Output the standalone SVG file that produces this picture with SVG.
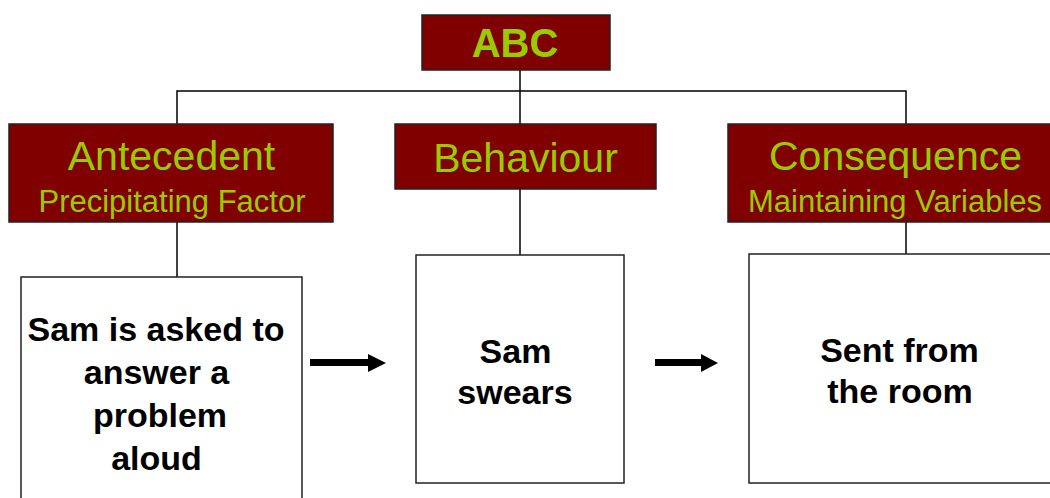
<svg xmlns="http://www.w3.org/2000/svg" width="1050" height="498" viewBox="0 0 1050 498">
  <style>
    .head { fill: #800000; stroke: #222; stroke-width: 1.5; }
    .card { fill: #fff; stroke: #222; stroke-width: 1.5; }
    .big { font-family: "Liberation Sans", Arial, sans-serif; font-size: 41px; fill: #99cc00; text-anchor: middle; }
    .sub { font-family: "Liberation Sans", Arial, sans-serif; font-size: 31px; fill: #99cc00; text-anchor: middle; }
    .body { font-family: "Liberation Sans", Arial, sans-serif; font-size: 34px; font-weight: bold; fill: #000; text-anchor: middle; }
    .wire { stroke: #000; stroke-width: 1.5; fill: none; }
    .shaft { stroke: #000; stroke-width: 7; fill: none; }
    .tip { fill: #000; }
  </style>

  <rect width="1050" height="498" fill="#fff"/>

  <!-- tree connectors -->
  <g id="connectors">
    <path class="wire" d="M520,70 V124"/>
    <path class="wire" d="M177,124 V91 H906 V124"/>
    <path class="wire" d="M177,222 V277"/>
    <path class="wire" d="M520,189 V255"/>
    <path class="wire" d="M906,222 V254"/>
    <!-- sequence arrows -->
    <path class="shaft" d="M310,362.5 H370"/>
    <polygon class="tip" points="368,354 386,363 368,372"/>
    <path class="shaft" d="M655,362.5 H704"/>
    <polygon class="tip" points="701,354 718,363 701,372"/>
  </g>

  <g id="abc">
    <rect class="head" x="422" y="15" width="188" height="55"/>
    <text x="515" y="57" font-family="Liberation Sans, Arial, sans-serif" font-size="40" font-weight="bold" fill="#99cc00" text-anchor="middle">ABC</text>
  </g>

  <g id="antecedent">
    <rect class="head" x="9" y="124" width="324" height="98"/>
    <text class="big" x="171.5" y="170">Antecedent</text>
    <text class="sub" x="172" y="212">Precipitating Factor</text>
  </g>

  <g id="behaviour">
    <rect class="head" x="395" y="124" width="261" height="65"/>
    <text class="big" x="525.5" y="172">Behaviour</text>
  </g>

  <g id="consequence">
    <rect class="head" x="728" y="124" width="335" height="98"/>
    <text class="big" x="895.5" y="170">Consequence</text>
    <text class="sub" x="895" y="212">Maintaining Variables</text>
  </g>

  <g id="antecedent-example">
    <rect class="card" x="21" y="277" width="281" height="240"/>
    <text class="body" x="156" y="341">Sam is asked to</text>
    <text class="body" x="156.5" y="384">answer a</text>
    <text class="body" x="160" y="427">problem</text>
    <text class="body" x="156.5" y="470">aloud</text>
  </g>

  <g id="behaviour-example">
    <rect class="card" x="416" y="255" width="208" height="228"/>
    <text class="body" x="515.5" y="363">Sam</text>
    <text class="body" x="515" y="404">swears</text>
  </g>

  <g id="consequence-example">
    <rect class="card" x="749" y="254" width="320" height="229"/>
    <text class="body" x="899.5" y="362">Sent from</text>
    <text class="body" x="900" y="403">the room</text>
  </g>
</svg>
